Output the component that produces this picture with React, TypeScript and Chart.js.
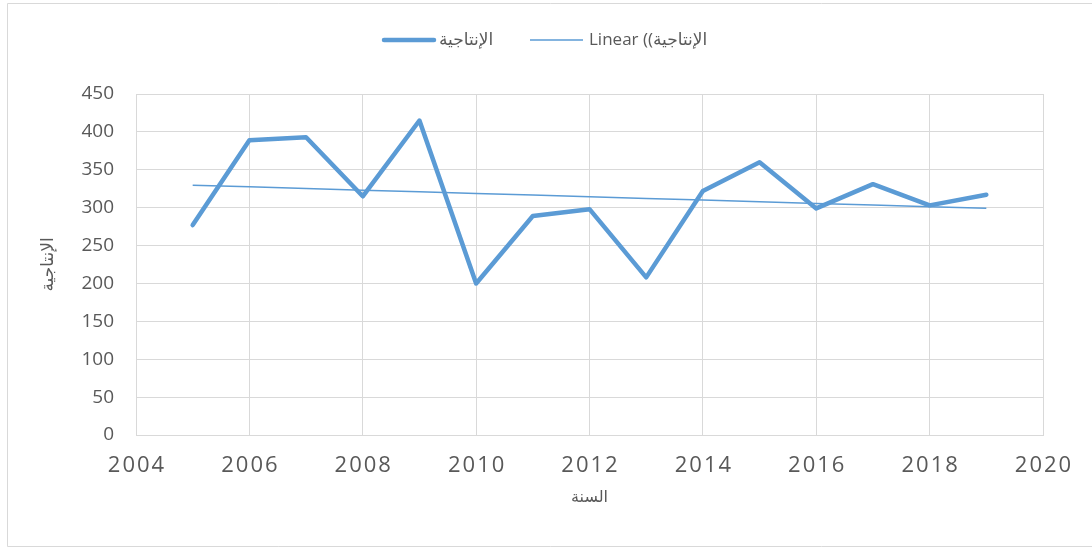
import React, { useEffect, useRef } from "react";
import { Chart, registerables } from "chart.js";

Chart.register(...registerables);

// ---- data ----
const years: number[] = [2005, 2006, 2007, 2008, 2009, 2010, 2011, 2012, 2013, 2014, 2015, 2016, 2017, 2018, 2019];
const production: number[] = [277, 389, 393, 315, 415, 200, 289, 298, 208, 322, 360, 299, 331, 303, 317];
const xTickValues: number[] = [2004, 2006, 2008, 2010, 2012, 2014, 2016, 2018, 2020];
const yTickValues: number[] = [0, 50, 100, 150, 200, 250, 300, 350, 400, 450];
const seriesName = "الإنتاجية";
const trendName = "Linear ((الإنتاجية";
const xTitle = "السنة";
const yTitle = "الإنتاجية";

const LINE_COLOR = "#5b9bd5";
const GRID_COLOR = "#d9d9d9";
const TEXT_COLOR = "#595959";
const FONT_FAMILY = '"Open Sans", "DejaVu Sans", sans-serif';

// least-squares linear trendline (as the spreadsheet computes it)
function linearTrend(xs: number[], ys: number[]): number[] {
  const n = xs.length;
  const mx = xs.reduce((a, b) => a + b, 0) / n;
  const my = ys.reduce((a, b) => a + b, 0) / n;
  let sxy = 0;
  let sxx = 0;
  for (let i = 0; i < n; i++) {
    sxy += (xs[i] - mx) * (ys[i] - my);
    sxx += (xs[i] - mx) * (xs[i] - mx);
  }
  const slope = sxy / sxx;
  return xs.map((x) => my + slope * (x - mx));
}

const framePlugin = {
  id: "frame",
  beforeDraw(chart: any) {
    const ctx = chart.ctx;
    ctx.save();
    ctx.strokeStyle = GRID_COLOR;
    ctx.lineWidth = 1;
    ctx.beginPath();
    ctx.moveTo(1100, 3.5);
    ctx.lineTo(7.5, 3.5);
    ctx.lineTo(7.5, 546.5);
    ctx.lineTo(1100, 546.5);
    ctx.stroke();
    ctx.restore();
  },
};

const legendAndTicksPlugin = {
  id: "legendAndTicks",
  afterDraw(chart: any) {
    const ctx = chart.ctx;
    ctx.save();
    // legend
    const ly = 40;
    ctx.lineCap = "round";
    ctx.strokeStyle = LINE_COLOR;
    ctx.lineWidth = 4.5;
    ctx.beginPath();
    ctx.moveTo(384, ly);
    ctx.lineTo(434, ly);
    ctx.stroke();
    ctx.lineWidth = 1.5;
    ctx.lineCap = "butt";
    ctx.beginPath();
    ctx.moveTo(530, ly);
    ctx.lineTo(583, ly);
    ctx.stroke();
    ctx.fillStyle = TEXT_COLOR;
    ctx.font = `17px ${FONT_FAMILY}`;
    ctx.textBaseline = "middle";
    ctx.textAlign = "left";
    ctx.direction = "ltr";
    ctx.fillText(seriesName, 439, ly);
    ctx.fillText(trendName, 589, ly);

    // x tick labels (letter-spaced)
    const xs = chart.scales.x;
    ctx.font = `22px ${FONT_FAMILY}`;
    ctx.textAlign = "center";
    ctx.textBaseline = "middle";
    (ctx as any).letterSpacing = "2px";
    for (const v of xTickValues) {
      const px = xs.getPixelForValue(v);
      ctx.fillText(String(v), px + 1, 466);
    }
    ctx.restore();
  },
};

export default function App() {
  const ref = useRef<HTMLCanvasElement | null>(null);

  useEffect(() => {
    if (!ref.current) return;
    const trend = linearTrend(years, production);
    const chart = new Chart(ref.current, {
      type: "line",
      data: {
        datasets: [
          {
            label: seriesName,
            data: years.map((x, i) => ({ x, y: production[i] })),
            borderColor: LINE_COLOR,
            backgroundColor: LINE_COLOR,
            borderWidth: 4.5,
            pointRadius: 0,
            tension: 0,
            borderCapStyle: "round",
            borderJoinStyle: "round",
          },
          {
            label: trendName,
            data: years.map((x, i) => ({ x, y: trend[i] })),
            borderColor: LINE_COLOR,
            backgroundColor: LINE_COLOR,
            borderWidth: 1.5,
            pointRadius: 0,
            tension: 0,
          },
        ],
      },
      options: {
        animation: false,
        responsive: false,
        maintainAspectRatio: false,
        devicePixelRatio: 1,
        layout: { padding: { top: 94, right: 49, left: 0, bottom: 0 } },
        plugins: {
          legend: { display: false },
          tooltip: { enabled: false },
        },
        scales: {
          x: {
            type: "linear",
            min: 2004,
            max: 2020,
            afterBuildTicks: (s: any) => {
              s.ticks = xTickValues.map((v) => ({ value: v }));
            },
            afterFit: (s: any) => {
              s.height = 114;
            },
            ticks: { display: false, stepSize: 2 },
            grid: { color: GRID_COLOR, lineWidth: 1, drawTicks: false },
            border: { color: GRID_COLOR, width: 1 },
            title: {
              display: true,
              text: xTitle,
              color: TEXT_COLOR,
              font: { family: FONT_FAMILY, size: 16 },
              padding: { top: 0, bottom: 42 },
            },
          },
          y: {
            type: "linear",
            min: 0,
            max: 450,
            afterBuildTicks: (s: any) => {
              s.ticks = yTickValues.map((v) => ({ value: v }));
            },
            afterFit: (s: any) => {
              s.width = 136;
            },
            ticks: {
              stepSize: 50,
              color: TEXT_COLOR,
              padding: 22,
              font: { family: FONT_FAMILY, size: 19 },
            },
            grid: { color: GRID_COLOR, lineWidth: 1, drawTicks: false },
            border: { color: GRID_COLOR, width: 1 },
            title: {
              display: true,
              text: yTitle,
              color: TEXT_COLOR,
              font: { family: FONT_FAMILY, size: 17 },
              padding: { top: 38, bottom: 0 },
            },
          },
        },
      },
      plugins: [framePlugin, legendAndTicksPlugin],
    });
    return () => chart.destroy();
  }, []);

  return (
    <canvas
      ref={ref}
      width={1092}
      height={549}
      style={{ position: "fixed", left: 0, top: 0, width: 1092, height: 549 }}
    />
  );
}
